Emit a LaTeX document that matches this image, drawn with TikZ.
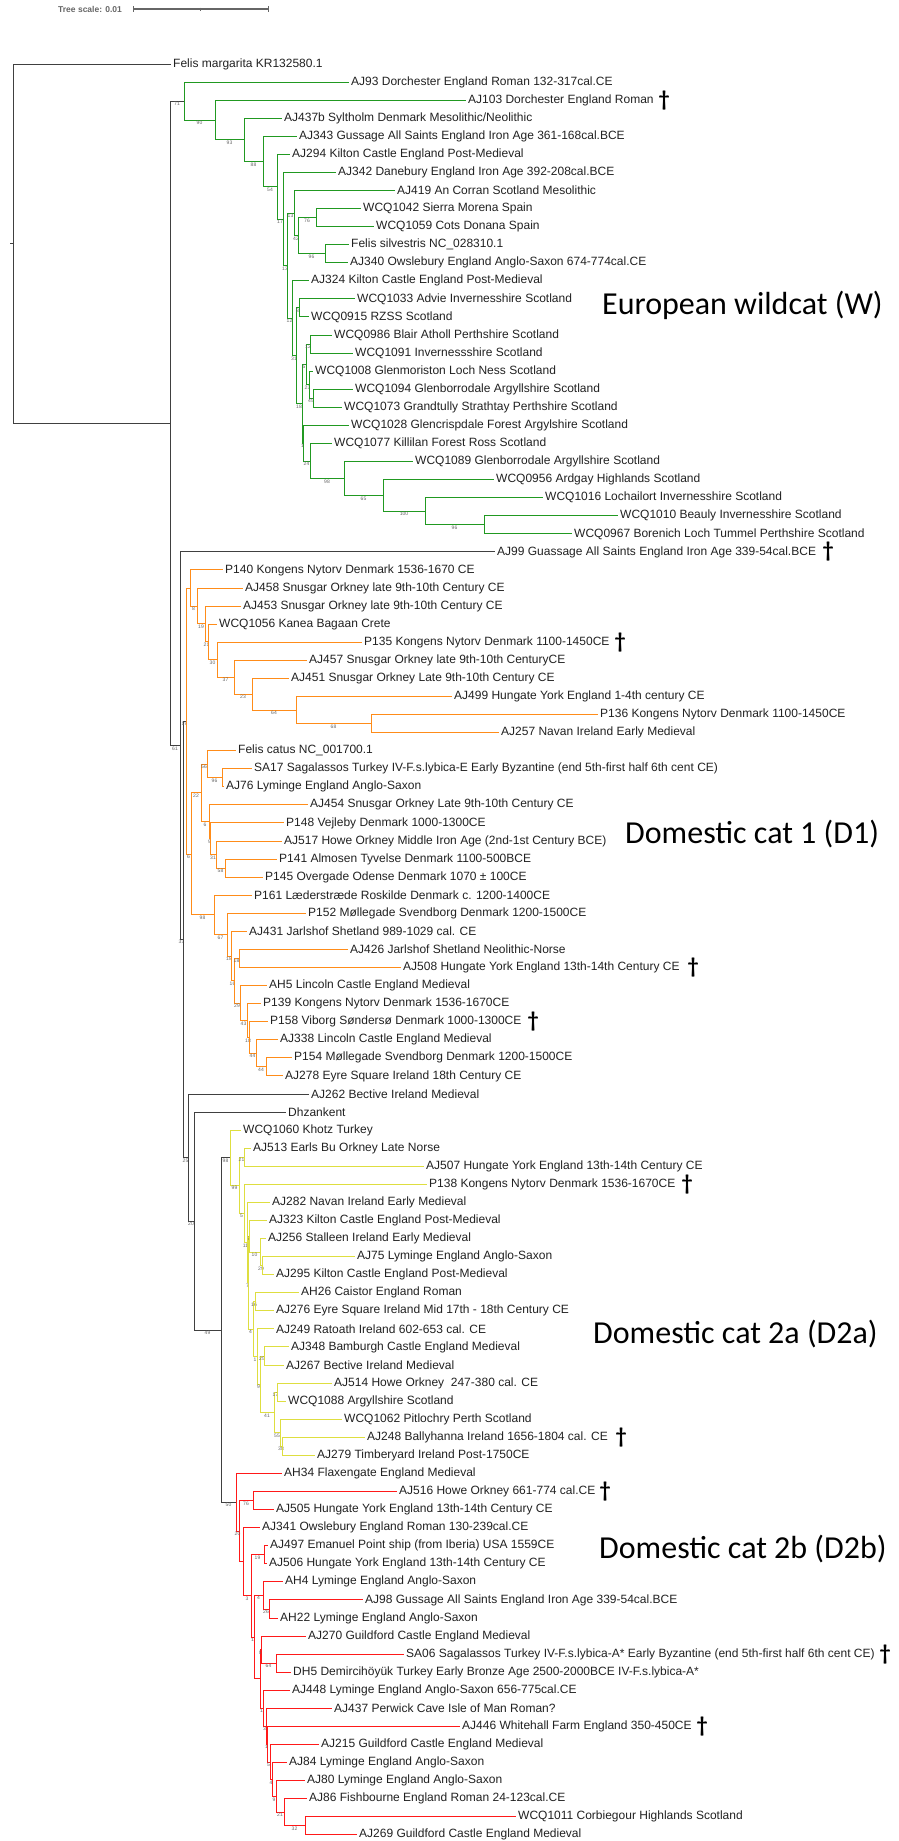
\documentclass[tikz,border=0pt]{standalone}
\usepackage{fontspec}
\setmainfont{Liberation Sans}
\newfontfamily\cladefont{Carlito}
\usepackage{tikz}
\definecolor{wildgreen}{rgb}{0.13,0.6,0.13}
\definecolor{dcorange}{rgb}{1.0,0.55,0.1}
\definecolor{dcyellow}{rgb}{0.87,0.87,0.25}
\definecolor{dcred}{rgb}{1.0,0.1,0.1}
\definecolor{basegray}{rgb}{0.25,0.25,0.25}
\definecolor{labeltext}{rgb}{0.13,0.13,0.13}
\definecolor{bootgray}{rgb}{0.4,0.4,0.4}
\tikzset{
  leaf/.style={anchor=west, inner xsep=2pt, inner ysep=0pt, font=\fontsize{12}{13}\selectfont, text=labeltext},
  boot/.style={pos=.75, below, inner sep=0.5pt, font=\fontsize{5}{5}\selectfont, text=bootgray},
  branch/.style={line width=1pt},
  clade/.style={anchor=base west, inner sep=0pt, font=\cladefont\fontsize{32}{32}\selectfont},
  deadmark/.style={inner sep=0pt, font=\cladefont\bfseries\fontsize{22}{22}\selectfont}
}

\begin{document}
\begin{tikzpicture}[x=1pt, y=-18.07pt]
        \useasboundingbox (0,-3.542) rectangle (898,98.34);

        % Tree scale
        \node[anchor=west, inner sep=0pt, font=\bfseries\fontsize{8.5}{9}\selectfont, text=bootgray] (tscale) at (58,-3.04) {Tree scale: 0.01};
        \coordinate (bar0) at (133,-3.04);
        \coordinate (barm) at (200,-3.04);
        \coordinate (bar1) at (268,-3.04);
        \draw[bootgray, line width=1.2pt] (bar0) -- (bar1);
        \draw[bootgray, line width=0.8pt] ([yshift=3pt]bar0) -- ([yshift=-3pt]bar0);
        \draw[bootgray, line width=0.8pt] ([yshift=3pt]bar1) -- ([yshift=-3pt]bar1);
        \draw[bootgray, line width=0.6pt] ([yshift=1.5pt]barm) -- ([yshift=-1.5pt]barm);

        % Backbone
        \coordinate (rootstub) at (10,9.94);
        \coordinate (root) at (13,9.94);
        \coordinate (na) at (170,19.88);
        \coordinate (nb) at (180,37.72);
        \coordinate (nc) at (183,48.44);
        \coordinate (ne) at (188,60.52);
        \coordinate (nf) at (194,64.03);
        \coordinate (ng) at (221,70.07);

        % European wildcat nodes
        \coordinate (w0) at (184,2.05);
        \coordinate (w1) at (215,3.1);
        \coordinate (w2) at (244,4.2);
        \coordinate (w3) at (263,5.4);
        \coordinate (w4) at (277,6.79);
        \coordinate (w5) at (283,8.58);
        \coordinate (w6) at (287,11.16);
        \coordinate (w7) at (294,8.25);
        \coordinate (w9) at (298,9.5);
        \coordinate (w10) at (316,8.5);
        \coordinate (w11) at (325,10.5);
        \coordinate (w8) at (292,14.08);
        \coordinate (w14) at (296,16.15);
        \coordinate (w13) at (299,13.5);
        \coordinate (w16) at (302,18.8);
        \coordinate (w21) at (306,16.63);
        \coordinate (w18) at (310,15.5);
        \coordinate (w20) at (309,17.75);
        \coordinate (w19) at (313,18.5);
        \coordinate (w27) at (303,20.98);
        \coordinate (w22) at (310,21.97);
        \coordinate (w23) at (344,22.94);
        \coordinate (w24) at (383,23.88);
        \coordinate (w25) at (425,24.75);
        \coordinate (w26) at (484,25.5);

        % Domestic cat 1 nodes
        \coordinate (d1) at (186,36.36);
        \coordinate (t9) at (190,29);
        \coordinate (t8) at (197,30);
        \coordinate (t7) at (205,30.99);
        \coordinate (t6) at (208,31.98);
        \coordinate (t5) at (217,32.97);
        \coordinate (t4) at (234,33.94);
        \coordinate (t3) at (252,34.88);
        \coordinate (t2) at (296,35.75);
        \coordinate (t1) at (371,36.5);
        \coordinate (u) at (191,43.72);
        \coordinate (v1) at (201,40.34);
        \coordinate (v3) at (207,38.75);
        \coordinate (v5) at (222,39.5);
        \coordinate (v4) at (209,41.94);
        \coordinate (v9) at (210,42.88);
        \coordinate (v8) at (216,43.75);
        \coordinate (v7) at (225,44.5);
        \coordinate (v2) at (214,47.09);
        \coordinate (v10) at (227,48.18);
        \coordinate (v11) at (231,49.37);
        \coordinate (x4) at (234,50.73);
        \coordinate (v13) at (239,49.5);
        \coordinate (x3) at (240,51.97);
        \coordinate (x2) at (247,52.94);
        \coordinate (x1) at (249,53.88);
        \coordinate (x0) at (256,54.75);
        \coordinate (y1) at (266,55.5);

        % Domestic cat 2a nodes
        \coordinate (d2a) at (230,60.53);
        \coordinate (h) at (239,62.06);
        \coordinate (i1) at (244,60.5);
        \coordinate (q15) at (244,63.61);
        \coordinate (q14) at (247,65.23);
        \coordinate (q13) at (248,67.45);
        \coordinate (q12) at (249,64.88);
        \coordinate (q11) at (260,65.75);
        \coordinate (q10) at (262,66.5);
        \coordinate (q9) at (253,70.02);
        \coordinate (q8) at (255,68.5);
        \coordinate (q7) at (257,71.53);
        \coordinate (q6) at (260,73.06);
        \coordinate (q5) at (264,71.5);
        \coordinate (q4) at (274,74.63);
        \coordinate (q3) at (277,73.5);
        \coordinate (q2) at (280,75.75);
        \coordinate (q1) at (282,76.5);

        % Domestic cat 2b nodes
        \coordinate (d2b) at (236,79.6);
        \coordinate (r2) at (239,81.2);
        \coordinate (r1) at (253,79.5);
        \coordinate (s17) at (243,82.89);
        \coordinate (s16) at (251,84.78);
        \coordinate (s13) at (264,82.5);
        \coordinate (s14) at (254,87.06);
        \coordinate (s12) at (263,84.75);
        \coordinate (s11) at (269,85.5);
        \coordinate (s15) at (260,89.37);
        \coordinate (s10) at (261,87.75);
        \coordinate (s9) at (276,88.5);
        \coordinate (s8) at (263,90.99);
        \coordinate (s7) at (266,91.99);
        \coordinate (s6) at (267,92.98);
        \coordinate (s5) at (270,93.97);
        \coordinate (s4) at (272,94.94);
        \coordinate (s3) at (276,95.88);
        \coordinate (s2) at (284,96.75);
        \coordinate (s1) at (305,97.5);

        % Tip labels
        \node[leaf] (fmarg) at (171,0) {Felis margarita KR132580.1};
        \node[leaf] (aj93) at (349,1) {AJ93 Dorchester England Roman 132-317cal.CE};
        \node[leaf] (aj103) at (466,2) {AJ103 Dorchester England Roman};
        \node[leaf] (aj437b) at (282,3) {AJ437b Syltholm Denmark Mesolithic/Neolithic};
        \node[leaf] (aj343) at (297,4) {AJ343 Gussage All Saints England Iron Age 361-168cal.BCE};
        \node[leaf] (aj294) at (290,5) {AJ294 Kilton Castle England Post-Medieval};
        \node[leaf] (aj342) at (336,6) {AJ342 Danebury England Iron Age 392-208cal.BCE};
        \node[leaf] (aj419) at (395,7) {AJ419 An Corran Scotland Mesolithic};
        \node[leaf] (wcq1042) at (361,8) {WCQ1042 Sierra Morena Spain};
        \node[leaf] (wcq1059) at (374,9) {WCQ1059 Cots Donana Spain};
        \node[leaf] (fsilv) at (349,10) {Felis silvestris NC\_028310.1};
        \node[leaf] (aj340) at (348,11) {AJ340 Owslebury England Anglo-Saxon 674-774cal.CE};
        \node[leaf] (aj324) at (309,12) {AJ324 Kilton Castle England Post-Medieval};
        \node[leaf] (wcq1033) at (355,13) {WCQ1033 Advie Invernesshire Scotland};
        \node[leaf] (wcq0915) at (309,14) {WCQ0915 RZSS Scotland};
        \node[leaf] (wcq0986) at (332,15) {WCQ0986 Blair Atholl Perthshire Scotland};
        \node[leaf] (wcq1091) at (353,16) {WCQ1091 Invernessshire Scotland};
        \node[leaf] (wcq1008) at (313,17) {WCQ1008 Glenmoriston Loch Ness Scotland};
        \node[leaf] (wcq1094) at (353,18) {WCQ1094 Glenborrodale Argyllshire Scotland};
        \node[leaf] (wcq1073) at (342,19) {WCQ1073 Grandtully Strathtay Perthshire Scotland};
        \node[leaf] (wcq1028) at (349,20) {WCQ1028 Glencrispdale Forest Argylshire Scotland};
        \node[leaf] (wcq1077) at (332,21) {WCQ1077 Killilan Forest Ross Scotland};
        \node[leaf] (wcq1089) at (413,22) {WCQ1089 Glenborrodale Argyllshire Scotland};
        \node[leaf] (wcq0956) at (494,23) {WCQ0956 Ardgay Highlands Scotland};
        \node[leaf] (wcq1016) at (543,24) {WCQ1016 Lochailort Invernesshire Scotland};
        \node[leaf] (wcq1010) at (618,25) {WCQ1010 Beauly Invernesshire Scotland};
        \node[leaf] (wcq0967) at (572,26) {WCQ0967 Borenich Loch Tummel Perthshire Scotland};
        \node[leaf] (aj99) at (495,27) {AJ99 Guassage All Saints England Iron Age 339-54cal.BCE};
        \node[leaf] (p140) at (223,28) {P140 Kongens Nytorv Denmark 1536-1670 CE};
        \node[leaf] (aj458) at (243,29) {AJ458 Snusgar Orkney late 9th-10th Century CE};
        \node[leaf] (aj453) at (241,30) {AJ453 Snusgar Orkney late 9th-10th Century CE};
        \node[leaf] (wcq1056) at (217,31) {WCQ1056 Kanea Bagaan Crete};
        \node[leaf] (p135) at (362,32) {P135 Kongens Nytorv Denmark 1100-1450CE};
        \node[leaf] (aj457) at (307,33) {AJ457 Snusgar Orkney late 9th-10th CenturyCE};
        \node[leaf] (aj451) at (289,34) {AJ451 Snusgar Orkney Late 9th-10th Century CE};
        \node[leaf] (aj499) at (452,35) {AJ499 Hungate York England 1-4th century CE};
        \node[leaf] (p136) at (598,36) {P136 Kongens Nytorv Denmark 1100-1450CE};
        \node[leaf] (aj257) at (499,37) {AJ257 Navan Ireland Early Medieval};
        \node[leaf] (fcatus) at (236,38) {Felis catus NC\_001700.1};
        \node[leaf] (sa17) at (252,39) {SA17 Sagalassos Turkey IV-F.s.lybica-E Early Byzantine (end 5th-first half 6th cent CE)};
        \node[leaf] (aj76) at (224,40) {AJ76 Lyminge England Anglo-Saxon};
        \node[leaf] (aj454) at (308,41) {AJ454 Snusgar Orkney Late 9th-10th Century CE};
        \node[leaf] (p148) at (284,42) {P148 Vejleby Denmark 1000-1300CE};
        \node[leaf] (aj517) at (282,43) {AJ517 Howe Orkney Middle Iron Age (2nd-1st Century BCE)};
        \node[leaf] (p141) at (277,44) {P141 Almosen Tyvelse Denmark 1100-500BCE};
        \node[leaf] (p145) at (263,45) {P145 Overgade Odense Denmark 1070 ± 100CE};
        \node[leaf] (p161) at (252,46) {P161 Læderstræde Roskilde Denmark c. 1200-1400CE};
        \node[leaf] (p152) at (306,47) {P152 Møllegade Svendborg Denmark 1200-1500CE};
        \node[leaf] (aj431) at (247,48) {AJ431 Jarlshof Shetland 989-1029 cal. CE};
        \node[leaf] (aj426) at (348,49) {AJ426 Jarlshof Shetland Neolithic-Norse};
        \node[leaf] (aj508) at (401,50) {AJ508 Hungate York England 13th-14th Century CE};
        \node[leaf] (ah5) at (267,51) {AH5 Lincoln Castle England Medieval};
        \node[leaf] (p139) at (261,52) {P139 Kongens Nytorv Denmark 1536-1670CE};
        \node[leaf] (p158) at (268,53) {P158 Viborg Søndersø Denmark 1000-1300CE};
        \node[leaf] (aj338) at (278,54) {AJ338 Lincoln Castle England Medieval};
        \node[leaf] (p154) at (292,55) {P154 Møllegade Svendborg Denmark 1200-1500CE};
        \node[leaf] (aj278) at (283,56) {AJ278 Eyre Square Ireland 18th Century CE};
        \node[leaf] (aj262) at (309,57) {AJ262 Bective Ireland Medieval};
        \node[leaf] (dhzan) at (286,58) {Dhzankent};
        \node[leaf] (wcq1060) at (241,59) {WCQ1060 Khotz Turkey};
        \node[leaf] (aj513) at (251,60) {AJ513 Earls Bu Orkney Late Norse};
        \node[leaf] (aj507) at (424,61) {AJ507 Hungate York England 13th-14th Century CE};
        \node[leaf] (p138) at (427,62) {P138 Kongens Nytorv Denmark 1536-1670CE};
        \node[leaf] (aj282) at (270,63) {AJ282 Navan Ireland Early Medieval};
        \node[leaf] (aj323) at (267,64) {AJ323 Kilton Castle England Post-Medieval};
        \node[leaf] (aj256) at (266,65) {AJ256 Stalleen Ireland Early Medieval};
        \node[leaf] (aj75) at (355,66) {AJ75 Lyminge England Anglo-Saxon};
        \node[leaf] (aj295) at (274,67) {AJ295 Kilton Castle England Post-Medieval};
        \node[leaf] (ah26) at (299,68) {AH26 Caistor England Roman};
        \node[leaf] (aj276) at (274,69) {AJ276 Eyre Square Ireland Mid 17th - 18th Century CE};
        \node[leaf] (aj249) at (274,70) {AJ249 Ratoath Ireland 602-653 cal. CE};
        \node[leaf] (aj348) at (289,71) {AJ348 Bamburgh Castle England Medieval};
        \node[leaf] (aj267) at (284,72) {AJ267 Bective Ireland Medieval};
        \node[leaf] (aj514) at (332,73) {AJ514 Howe Orkney\ \ 247-380 cal. CE};
        \node[leaf] (wcq1088) at (286,74) {WCQ1088 Argyllshire Scotland};
        \node[leaf] (wcq1062) at (342,75) {WCQ1062 Pitlochry Perth Scotland};
        \node[leaf] (aj248) at (365,76) {AJ248 Ballyhanna Ireland 1656-1804 cal. CE};
        \node[leaf] (aj279) at (315,77) {AJ279 Timberyard Ireland Post-1750CE};
        \node[leaf] (ah34) at (282,78) {AH34 Flaxengate England Medieval};
        \node[leaf] (aj516) at (397,79) {AJ516 Howe Orkney 661-774 cal.CE};
        \node[leaf] (aj505) at (274,80) {AJ505 Hungate York England 13th-14th Century CE};
        \node[leaf] (aj341) at (260,81) {AJ341 Owslebury England Roman 130-239cal.CE};
        \node[leaf] (aj497) at (268,82) {AJ497 Emanuel Point ship (from Iberia) USA 1559CE};
        \node[leaf] (aj506) at (267,83) {AJ506 Hungate York England 13th-14th Century CE};
        \node[leaf] (ah4) at (283,84) {AH4 Lyminge England Anglo-Saxon};
        \node[leaf] (aj98) at (363,85) {AJ98 Gussage All Saints England Iron Age 339-54cal.BCE};
        \node[leaf] (ah22) at (278,86) {AH22 Lyminge England Anglo-Saxon};
        \node[leaf] (aj270) at (306,87) {AJ270 Guildford Castle England Medieval};
        \node[leaf] (sa06) at (404,88) {SA06 Sagalassos Turkey IV-F.s.lybica-A* Early Byzantine (end 5th-first half 6th cent CE)};
        \node[leaf] (dh5) at (291,89) {DH5 Demircihöyük Turkey Early Bronze Age 2500-2000BCE IV-F.s.lybica-A*};
        \node[leaf] (aj448) at (290,90) {AJ448 Lyminge England Anglo-Saxon 656-775cal.CE};
        \node[leaf] (aj437) at (332,91) {AJ437 Perwick Cave Isle of Man Roman?};
        \node[leaf] (aj446) at (460,92) {AJ446 Whitehall Farm England 350-450CE};
        \node[leaf] (aj215) at (319,93) {AJ215 Guildford Castle England Medieval};
        \node[leaf] (aj84) at (287,94) {AJ84 Lyminge England Anglo-Saxon};
        \node[leaf] (aj80) at (305,95) {AJ80 Lyminge England Anglo-Saxon};
        \node[leaf] (aj86) at (307,96) {AJ86 Fishbourne England Roman 24-123cal.CE};
        \node[leaf] (wcq1011) at (516,97) {WCQ1011 Corbiegour Highlands Scotland};
        \node[leaf] (aj269) at (357,98) {AJ269 Guildford Castle England Medieval};

        % Daggers
        \node[deadmark] (dag1) at (664,2) {†};
        \node[deadmark] (dag2) at (828,27) {†};
        \node[deadmark] (dag3) at (620,32) {†};
        \node[deadmark] (dag4) at (693,50) {†};
        \node[deadmark] (dag5) at (533,53) {†};
        \node[deadmark] (dag6) at (687,62) {†};
        \node[deadmark] (dag7) at (621,76) {†};
        \node[deadmark] (dag8) at (605,79) {†};
        \node[deadmark] (dag9) at (885,88) {†};
        \node[deadmark] (dag10) at (702,92) {†};

        % Clade names
        \node[clade] (wildlab) at (602,13.89) {European wildcat (W)};
        \node[clade] (d1lab) at (625,43.11) {Domestic cat 1 (D1)};
        \node[clade] (d2alab) at (593,70.78) {Domestic cat 2a (D2a)};
        \node[clade] (d2blab) at (599,82.68) {Domestic cat 2b (D2b)};

        % Backbone branches
        \begin{scope}[branch, basegray]
        \draw (root) -- (rootstub);
        \foreach \p/\c in {root/fmarg, root/na, nb/aj99, ne/aj262, nf/dhzan}
            \draw (\p) |- (\c);
        \foreach \p/\c/\b in {na/w0/71, na/nb/61, nb/nc/33, nc/d1/19, nc/ne/25, ne/nf/20, nf/ng/49, ng/d2a/98, ng/d2b/50}
            \draw (\p) |- node[boot] {\b} (\c);
        \end{scope}

        % European wildcat branches
        \begin{scope}[branch, wildgreen]
        \foreach \p/\c/\b in {w0/w1/90, w1/w2/93, w2/w3/88, w3/w4/54, w4/w5/17, w5/w6/13, w6/w7/13, w7/w9/42, w9/w10/76, w9/w11/96, w6/w8/12, w8/w14/31, w14/w13/8, w14/w16/18, w16/w21/5, w21/w18/12, w21/w20/23, w20/w19/45, w16/w27/1, w27/w22/24, w22/w23/98, w23/w24/65, w24/w25/100, w25/w26/96}
            \draw (\p) |- node[boot] {\b} (\c);
        \foreach \p/\c in {w0/aj93, w1/aj103, w2/aj437b, w3/aj343, w4/aj294, w5/aj342, w7/aj419, w10/wcq1042, w10/wcq1059, w11/fsilv, w11/aj340, w8/aj324, w13/wcq1033, w13/wcq0915, w18/wcq0986, w18/wcq1091, w20/wcq1008, w19/wcq1094, w19/wcq1073, w27/wcq1028, w22/wcq1077, w23/wcq1089, w24/wcq0956, w25/wcq1016, w26/wcq1010, w26/wcq0967}
            \draw (\p) |- (\c);
        \end{scope}

        % Domestic cat 1 branches
        \begin{scope}[branch, dcorange]
        \draw (d1) |- (t9);
        \foreach \p/\c/\b in {t9/t8/8, t8/t7/19, t7/t6/21, t6/t5/30, t5/t4/37, t4/t3/23, t3/t2/64, t2/t1/68, d1/u/6, u/v1/22, v1/v3/56, v3/v5/96, v1/v4/6, v4/v9/9, v9/v8/31, v8/v7/58, u/v2/98, v2/v10/67, v10/v11/18, v11/x4/16, x4/v13/18, x4/x3/29, x3/x2/43, x2/x1/18, x1/x0/44, x0/y1/44}
            \draw (\p) |- node[boot] {\b} (\c);
        \foreach \p/\c in {t9/p140, t8/aj458, t7/aj453, t6/wcq1056, t5/p135, t4/aj457, t3/aj451, t2/aj499, t1/p136, t1/aj257, v3/fcatus, v5/sa17, v5/aj76, v4/aj454, v9/p148, v8/aj517, v7/p141, v7/p145, v2/p161, v10/p152, v11/aj431, v13/aj426, v13/aj508, x3/ah5, x2/p139, x1/p158, x0/aj338, y1/p154, y1/aj278}
            \draw (\p) |- (\c);
        \end{scope}

        % Domestic cat 2a branches
        \begin{scope}[branch, dcyellow]
        \foreach \p/\c/\b in {d2a/h/99, h/i1/21, h/q15/5, q15/q14/11, q14/q13/7, q13/q12/2, q12/q11/10, q11/q10/29, q13/q9/4, q9/q8/16, q9/q7/1, q7/q6/9, q6/q5/25, q6/q4/41, q4/q3/17, q4/q2/55, q2/q1/38}
            \draw (\p) |- node[boot] {\b} (\c);
        \foreach \p/\c in {d2a/wcq1060, i1/aj513, i1/aj507, q15/p138, q14/aj282, q12/aj323, q11/aj256, q10/aj75, q10/aj295, q8/ah26, q8/aj276, q7/aj249, q5/aj348, q5/aj267, q3/aj514, q3/wcq1088, q2/wcq1062, q1/aj248, q1/aj279}
            \draw (\p) |- (\c);
        \end{scope}

        % Domestic cat 2b branches
        \begin{scope}[branch, dcred]
        \draw (r2) |- (s17);
        \draw (s14) |- (s15);
        \foreach \p/\c/\b in {d2b/r2/20, r2/r1/76, s17/s16/3, s16/s13/19, s16/s14/1, s14/s12/4, s12/s11/26, s15/s10/8, s10/s9/64, s15/s8/1, s8/s7/3, s7/s6/1, s6/s5/5, s5/s4/4, s4/s3/9, s3/s2/21, s2/s1/32}
            \draw (\p) |- node[boot] {\b} (\c);
        \foreach \p/\c in {d2b/ah34, r1/aj516, r1/aj505, s17/aj341, s13/aj497, s13/aj506, s12/ah4, s11/aj98, s11/ah22, s10/aj270, s9/sa06, s9/dh5, s8/aj448, s7/aj437, s6/aj446, s5/aj215, s4/aj84, s3/aj80, s2/aj86, s1/wcq1011, s1/aj269}
            \draw (\p) |- (\c);
        \end{scope}
    \end{tikzpicture}
\end{document}
